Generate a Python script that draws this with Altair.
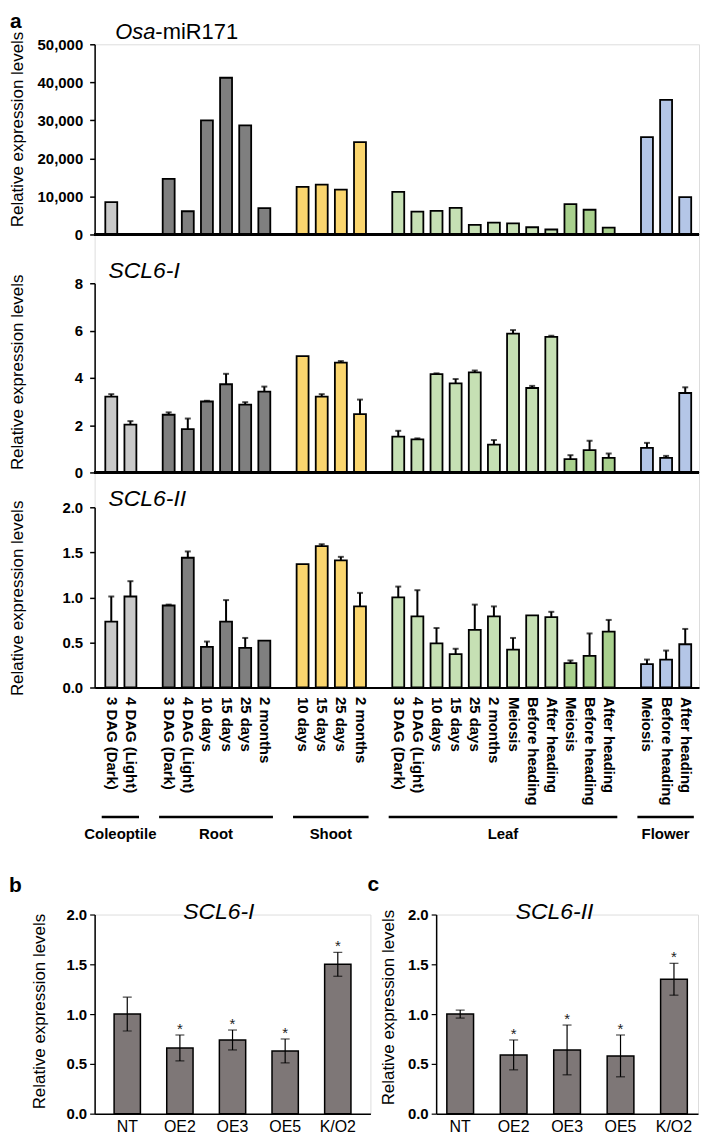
import json
import altair as alt
import pandas as pd

FONT = "Liberation Sans"

# ---------------- panel a data ----------------
tissue = (["Coleoptile"] * 2 + ["Root"] * 6 + ["Shoot"] * 4 + ["Leaf"] * 12 + ["Flower"] * 3)
shade = (["Coleoptile"] * 2 + ["Root"] * 6 + ["Shoot"] * 4 + ["Leaf"] * 9
         + ["Leaf late"] * 3 + ["Flower"] * 3)
stage = ["3 DAG (Dark)", "4 DAG (Light)",
         "3 DAG (Dark)", "4 DAG (Light)", "10 days", "15 days", "25 days", "2 months",
         "10 days", "15 days", "25 days", "2 months",
         "3 DAG (Dark)", "4 DAG (Light)", "10 days", "15 days", "25 days", "2 months",
         "Meiosis", "Before heading", "After heading",
         "Meiosis", "Before heading", "After heading",
         "Meiosis", "Before heading", "After heading"]

mir171 = [8500, 150, 14600, 6100, 30000, 41200, 28700, 6900,
          12500, 13100, 11800, 24300,
          11200, 6000, 6200, 7000, 2500, 3100, 2900, 1900, 1300, 8000, 6500, 1800,
          25600, 35400, 9800]

scl6i = [3.21, 2.02, 2.44, 1.83, 3.00, 3.73, 2.87, 3.42,
         4.92, 3.21, 4.64, 2.47,
         1.51, 1.40, 4.16, 3.77, 4.23, 1.18, 5.87, 3.57, 5.73, 0.56, 0.94, 0.62,
         1.04, 0.62, 3.36]
scl6i_err = [0.10, 0.15, 0.10, 0.45, 0.03, 0.44, 0.10, 0.21,
             0.00, 0.10, 0.07, 0.61,
             0.25, 0.04, 0.03, 0.18, 0.08, 0.19, 0.15, 0.09, 0.05, 0.17, 0.40, 0.18,
             0.21, 0.08, 0.24]

scl6ii = [0.73, 1.01, 0.91, 1.44, 0.45, 0.73, 0.44, 0.52,
          1.37, 1.57, 1.41, 0.90,
          1.00, 0.79, 0.49, 0.37, 0.64, 0.79, 0.42, 0.80, 0.78, 0.27, 0.35, 0.62,
          0.26, 0.31, 0.48]
scl6ii_err = [0.28, 0.17, 0.01, 0.07, 0.06, 0.24, 0.11, 0.00,
              0.00, 0.02, 0.04, 0.15,
              0.12, 0.29, 0.17, 0.06, 0.28, 0.11, 0.13, 0.00, 0.06, 0.03, 0.25, 0.13,
              0.05, 0.10, 0.17]

tissue_order = ["Coleoptile", "Root", "Shoot", "Leaf", "Flower"]
shade_domain = ["Coleoptile", "Root", "Shoot", "Leaf", "Leaf late", "Flower"]
shade_range = ["#c9c9c9", "#7f7f7f", "#fad56e", "#c6e0b4", "#a8d08d", "#b4c6e7"]

# ---------------- panel b / c data ----------------
lines = ["NT", "OE2", "OE3", "OE5", "K/O2"]
b_mean = [1.00, 0.66, 0.74, 0.63, 1.50]
b_err = [0.17, 0.13, 0.10, 0.12, 0.12]
c_mean = [1.00, 0.59, 0.64, 0.58, 1.35]
c_err = [0.04, 0.15, 0.25, 0.21, 0.16]
stars = ["", "*", "*", "*", "*"]

# ---------------- build tables ----------------
slots = []
s, prev = 0, None
for t in tissue:
    if prev is not None and t != prev:
        s += 1
    slots.append(s)
    s += 1
    prev = t
n_slots = s

df = pd.DataFrame({
    "slot": slots, "stage": stage, "tissue": tissue, "shade": shade,
    "mir": mir171,
    "s1": scl6i, "s1e": scl6i_err,
    "s2": scl6ii, "s2e": scl6ii_err,
})
df["s1hi"] = df["s1"] + df["s1e"]
df["s2hi"] = df["s2"] + df["s2e"]

grp = df.groupby("tissue")["slot"].agg(["min", "max"]).reindex(tissue_order).reset_index()
grp["gstart"] = grp["min"] - 0.5
grp["gend"] = grp["max"] + 0.45
grp["gmid"] = (grp["gstart"] + grp["gend"]) / 2

full_labels = [""] * n_slots
for sl, st in zip(slots, stage):
    full_labels[sl] = st
label_expr = json.dumps(full_labels) + "[datum.value]"

W_MAIN, H_MAIN = 607, 646

xscale = alt.Scale(domain=[-0.61, n_slots - 1 + 0.46], nice=False, zero=False)
xaxis = alt.Axis(values=slots, labelExpr=label_expr, labelAngle=90, labelAlign="left",
                 labelBaseline="middle", ticks=False, labelPadding=9, labelFont=FONT,
                 labelFontSize=15, labelFontWeight="bold", labelColor="black",
                 labelOverlap=False, labelFlush=False, domainColor="black",
                 domainWidth=2, grid=False, title=None)


def X(field):
    return alt.X(f"{field}:Q", scale=xscale, axis=xaxis)


color = alt.Color("shade:N", scale=alt.Scale(domain=shade_domain, range=shade_range),
                  legend=None)


def yaxis(ticks, fmt, title_y):
    return alt.Axis(values=ticks, format=fmt, orient="left", title="Relative expression levels",
                    titleX=-77, titleY=title_y, titleBaseline="middle", titleAngle=-90,
                    titleAlign="center",
                    titleFont=FONT, titleFontSize=17, titleFontWeight="normal",
                    titleColor="black", labelFont=FONT, labelFontSize=15,
                    labelFontWeight="bold", labelColor="black", labelPadding=7,
                    tickSize=5, tickColor="black", tickWidth=1.5, domainColor="black",
                    domainWidth=1.5, grid=False)


def panel(field, err, hi, dom, rng, ticks, fmt, title_y, baseline=True):
    ysc = alt.Scale(domain=dom, range=rng, nice=False, zero=True)
    yax = yaxis(ticks, fmt, title_y)
    layers = [
        alt.Chart(df).mark_bar(width=12, stroke="black", strokeWidth=1.8).encode(
            x=X("slot"), y=alt.Y(f"{field}:Q", scale=ysc, axis=yax), color=color)
    ]
    if err is not None:
        edf = alt.Chart(df).transform_filter(f"datum.{err} > 0")
        layers.append(edf.mark_rule(color="black", strokeWidth=2).encode(
            x=X("slot"), y=alt.Y(f"{field}:Q", scale=ysc, axis=yax), y2=f"{hi}:Q"))
        layers.append(edf.mark_tick(orient="horizontal", size=6, thickness=2,
                                    color="black").encode(
            x=X("slot"), y=alt.Y(f"{hi}:Q", scale=ysc, axis=yax)))
    if baseline:
        layers.append(alt.Chart(df).mark_rule(color="black", strokeWidth=2).encode(
            x=alt.value(0), x2=alt.value(W_MAIN),
            y=alt.YDatum(0, type="quantitative", scale=ysc, axis=yax)))
    return alt.layer(*layers)


p1 = panel("mir", None, None, [0, 50000], [191, 0],
           [0, 10000, 20000, 30000, 40000, 50000], ",d", 85)
p2 = panel("s1", "s1e", "s1hi", [0, 8], [430, 240], [0, 2, 4, 6, 8], "d", 329)
p3 = panel("s2", "s2e", "s2hi", [0, 2], [646, 465], [0, 0.5, 1.0, 1.5, 2.0], ".1f", 556,
           baseline=False)


def label(txt, x, y, size, weight="normal", style="normal", align="left",
          baseline="middle"):
    return alt.Chart(pd.DataFrame({"t": [txt]})).mark_text(
        font=FONT, fontSize=size, fontWeight=weight, fontStyle=style, align=align,
        baseline=baseline, color="black").encode(
        x=alt.value(x), y=alt.value(y), text="t:N")


group_rules = alt.Chart(grp).mark_rule(color="black", strokeWidth=2.5).encode(
    x=X("gstart"), x2="gend:Q", y=alt.value(776))
group_text = alt.Chart(grp).mark_text(font=FONT, fontSize=15, fontWeight="bold",
                                      color="black", baseline="middle").encode(
    x=X("gmid"), y=alt.value(793), text="tissue:N")

main = alt.layer(
    p1, p2, p3,
    group_rules, group_text,
    label("a", -85, -16, 21, weight="bold", baseline="alphabetic"),
    label("Osa", 61, -12, 22, style="italic", align="right"),
    label("-miR171", 61, -12, 22),
    label("SCL6-I", 14, 228, 23, style="italic"),
    label("SCL6-II", 14, 457, 23, style="italic"),
).resolve_scale(y="independent").properties(width=W_MAIN, height=H_MAIN)


# ---------------- panels b and c ----------------
def small(mean, err, letter, gene, width, pad_outer, title_x, title_y, letter_x, letter_y,
          gene_x):
    d = pd.DataFrame({"line": lines, "mean": mean, "err": err, "star": stars})
    d["lo"] = d["mean"] - d["err"]
    d["hi"] = d["mean"] + d["err"]
    xs = alt.X("line:N", sort=lines,
               scale=alt.Scale(paddingInner=0.5, paddingOuter=pad_outer),
               axis=alt.Axis(title=None, labelAngle=0, ticks=False, labelFont=FONT,
                             labelFontSize=16, labelColor="black", labelPadding=5,
                             domainColor="black", domainWidth=1.5))
    ysc = alt.Scale(domain=[0, 2], nice=False)
    yax = alt.Axis(values=[0, 0.5, 1.0, 1.5, 2.0], format=".1f",
                   title="Relative expression levels", titleX=title_x, titleY=title_y,
                   titleBaseline="middle", titleAngle=-90, titleAlign="center",
                   titleFont=FONT, titleFontSize=17,
                   titleFontWeight="normal", titleColor="black", labelFont=FONT,
                   labelFontSize=15, labelFontWeight="bold", labelColor="black",
                   labelPadding=3, tickSize=5, tickColor="black", tickWidth=1.2,
                   domainColor="black", domainWidth=1.5, grid=False)
    base = alt.Chart(d)
    bars = base.mark_bar(color="#7e7777", stroke="black", strokeWidth=1.5).encode(
        x=xs, y=alt.Y("mean:Q", scale=ysc, axis=yax))
    rule = base.mark_rule(color="black", strokeWidth=1.2).encode(
        x=xs, y=alt.Y("lo:Q", scale=ysc, axis=yax), y2="hi:Q")
    cap_lo = base.mark_tick(size=9, thickness=1.2, color="black").encode(
        x=xs, y=alt.Y("lo:Q", scale=ysc, axis=yax))
    cap_hi = base.mark_tick(size=9, thickness=1.2, color="black").encode(
        x=xs, y=alt.Y("hi:Q", scale=ysc, axis=yax))
    star = base.mark_text(font=FONT, fontSize=15, color="#222222", baseline="alphabetic",
                          dy=-1).encode(
        x=xs, y=alt.Y("hi:Q", scale=ysc, axis=yax), text="star:N")
    return alt.layer(
        bars, rule, cap_lo, cap_hi, star,
        label(letter, letter_x, letter_y, 21, weight="bold", baseline="alphabetic"),
        label(gene, gene_x, -3, 23, style="italic"),
    ).properties(width=width, height=200)


pb = small(b_mean, b_err, "b", "SCL6-I", 277, 0.37, -55, 97, -86, -23, 89)
pc = small(c_mean, c_err, "c", "SCL6-II", 263, 0.2, -48, 93, -69, -24, 80)

bottom = alt.hconcat(pb, pc, spacing=66, bounds="flush")

chart = alt.vconcat(main, bottom, spacing=30).properties(padding=0).configure_view(
    stroke=None).configure(font=FONT)

chart.save("out.html", embed_options={"renderer": "svg", "actions": False})
